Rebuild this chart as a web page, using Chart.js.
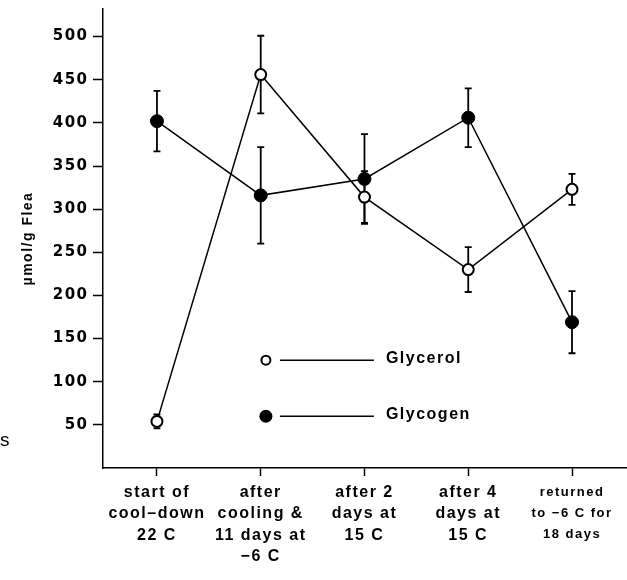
<!DOCTYPE html>
<html>
<head>
<meta charset="utf-8">
<script src="https://cdn.jsdelivr.net/npm/chart.js@4/dist/chart.umd.min.js"></script>
<style>
  html, body { margin: 0; padding: 0; background: #fff; }
  canvas { display: block; }
</style>
</head>
<body>
<canvas id="chart" width="627" height="580"></canvas>
<script>
// Sampling stages (multi-line axis labels)
const stages = [
  ['start of', 'cool\u2013down', '22 C'],
  ['after', 'cooling &', '11 days at', '\u22126 C'],
  ['after 2', 'days at', '15 C'],
  ['after 4', 'days at', '15 C'],
  ['returned', 'to \u22126 C for', '18 days']
];

// Means and standard errors, µmol/g flea
const glycerol    = [54, 456, 314, 230, 323];
const glycerolErr = [8, 45, 30, 26, 18];
const glycogen    = [402, 316, 335, 406, 169];
const glycogenErr = [35, 56, 52, 34, 36];

const yTicks = [50, 100, 150, 200, 250, 300, 350, 400, 450, 500];

const seriesNames = ['Glycerol', 'Glycogen'];
const seriesErrors = [glycerolErr, glycogenErr];
// where the in-plot key sits, in data units (stage position, value)
const keyStage = 1.05;
const keyValues = [125, 60];

const toPoints = arr => arr.map((v, i) => ({ x: i, y: v }));

// tracked lettering like the typeset figure
const tracking = {
  id: 'tracking',
  beforeLayout(chart) { chart.ctx.letterSpacing = '1.5px'; },
  beforeDraw(chart) { chart.ctx.letterSpacing = '1.5px'; }
};

// vertical error bars with short caps
const errorBars = {
  id: 'errorBars',
  beforeDatasetsDraw(chart) {
    const { ctx, scales: { x, y } } = chart;
    ctx.save();
    ctx.strokeStyle = '#000';
    ctx.lineWidth = 1.8;
    chart.data.datasets.forEach((ds, di) => {
      const errs = seriesErrors[di];
      ds.data.forEach((pt, i) => {
        const px = x.getPixelForValue(pt.x);
        const top = y.getPixelForValue(pt.y + errs[i]);
        const bot = y.getPixelForValue(pt.y - errs[i]);
        ctx.beginPath();
        ctx.moveTo(px, top); ctx.lineTo(px, bot);
        ctx.moveTo(px - 3.5, top); ctx.lineTo(px + 3.5, top);
        ctx.moveTo(px - 3.5, bot); ctx.lineTo(px + 3.5, bot);
        ctx.stroke();
      });
    });
    ctx.restore();
  }
};

// key drawn inside the plot: marker, rule, name
const inlineKey = {
  id: 'inlineKey',
  afterDatasetsDraw(chart) {
    const { ctx, scales: { x, y } } = chart;
    const cx = x.getPixelForValue(keyStage);
    ctx.save();
    seriesNames.forEach((name, i) => {
      const cy = y.getPixelForValue(keyValues[i]);
      ctx.beginPath();
      if (i === 0) {
        ctx.arc(cx, cy, 4.5, 0, Math.PI * 2);
        ctx.fillStyle = '#fff';
        ctx.fill();
        ctx.lineWidth = 2;
        ctx.strokeStyle = '#000';
        ctx.stroke();
      } else {
        ctx.arc(cx, cy, 6.5, 0, Math.PI * 2);
        ctx.fillStyle = '#000';
        ctx.fill();
      }
      ctx.beginPath();
      ctx.moveTo(cx + 14, cy);
      ctx.lineTo(cx + 108, cy);
      ctx.lineWidth = 1.5;
      ctx.strokeStyle = '#000';
      ctx.stroke();
      ctx.fillStyle = '#000';
      ctx.font = 'bold 16px "Liberation Sans", Arial, sans-serif';
      ctx.textBaseline = 'middle';
      ctx.textAlign = 'left';
      ctx.fillText(name, cx + 120, cy - 2);
    });
    // stray letter at the left margin
    ctx.font = '19px "Liberation Sans", Arial, sans-serif';
    ctx.textBaseline = 'middle';
    ctx.fillText('s', 0, 441);
    ctx.restore();
  }
};

const bodyFont = { family: '"Liberation Sans", Arial, sans-serif', weight: 'bold', size: 16, lineHeight: 1.33 };
const narrowFont = { family: '"Liberation Sans Narrow", "Liberation Sans", Arial, sans-serif', weight: 'bold', size: 13, lineHeight: 1.6 };

new Chart(document.getElementById('chart'), {
  type: 'line',
  data: {
    datasets: [
      {
        label: seriesNames[0],
        data: toPoints(glycerol),
        borderColor: '#000',
        borderWidth: 1.5,
        pointRadius: 5.5,
        pointBorderWidth: 2,
        pointBackgroundColor: '#fff',
        pointBorderColor: '#000',
        tension: 0,
        clip: false
      },
      {
        label: seriesNames[1],
        data: toPoints(glycogen),
        borderColor: '#000',
        borderWidth: 1.5,
        pointRadius: 6.5,
        pointBorderWidth: 1,
        pointBackgroundColor: '#000',
        pointBorderColor: '#000',
        tension: 0,
        clip: false
      }
    ]
  },
  options: {
    responsive: false,
    animation: false,
    devicePixelRatio: 1,
    layout: { autoPadding: false, padding: { top: 9, left: 0, right: 0, bottom: 0 } },
    plugins: { legend: { display: false }, tooltip: { enabled: false } },
    scales: {
      x: {
        type: 'linear',
        min: -0.52,
        max: 4.53,
        afterBuildTicks: s => { s.ticks = stages.map((_, i) => ({ value: i })); },
        afterFit: s => { s.height = 112; s.paddingLeft = 0; s.paddingRight = 0; },
        ticks: {
          autoSkip: false,
          maxRotation: 0,
          minRotation: 0,
          padding: 6,
          color: '#000',
          font: ctx => (ctx.index === stages.length - 1 ? narrowFont : bodyFont),
          callback: (v, i) => stages[i]
        },
        grid: { drawOnChartArea: false, drawTicks: true, tickLength: 8, color: '#000', tickWidth: 1.5 },
        border: { display: true, color: '#000', width: 1.5 }
      },
      y: {
        min: 0,
        max: 532,
        afterBuildTicks: s => { s.ticks = yTicks.map(v => ({ value: v })); },
        afterFit: s => { s.width = 103; s.paddingTop = 0; s.paddingBottom = 0; },
        ticks: {
          padding: 4.5,
          color: '#000',
          font: { family: '"DejaVu Sans", sans-serif', weight: 'bold', size: 15 }
        },
        grid: { drawOnChartArea: false, drawTicks: true, tickLength: 10, color: '#000', tickWidth: 1.5 },
        border: { display: true, color: '#000', width: 1.5 },
        title: {
          display: true,
          text: '\u00b5mol/g Flea',
          color: '#000',
          font: { family: '"Liberation Sans", Arial, sans-serif', weight: 'bold', size: 14 },
          padding: { top: 20, bottom: 0 }
        }
      }
    }
  },
  plugins: [tracking, errorBars, inlineKey]
});
</script>
</body>
</html>
